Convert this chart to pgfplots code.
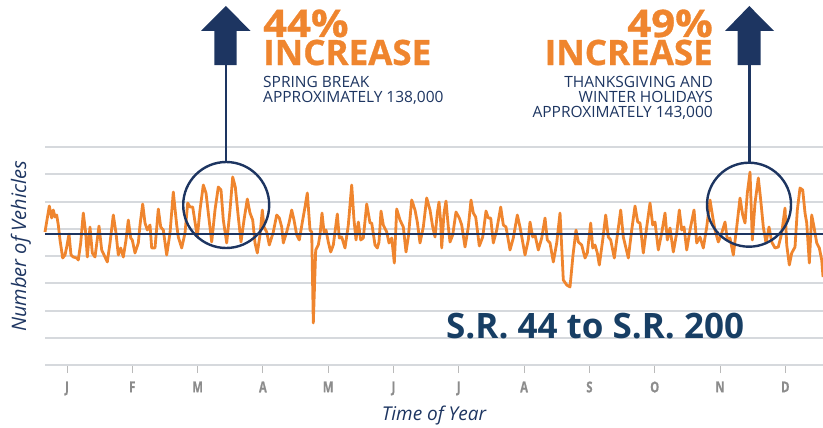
\documentclass[border=0pt]{standalone}
\usepackage{pgfplots}
\pgfplotsset{compat=1.18}
\usepackage{pgfplotstable}
\usepackage{fontspec}
\setmainfont{Open Sans}
\newfontfamily\heavy{Open Sans}[BoldFeatures={FakeBold=0.8}]
\definecolor{navy}{HTML}{1D3561}
\definecolor{srnavy}{HTML}{173E64}
\definecolor{orng}{HTML}{EF852E}
\definecolor{gridg}{HTML}{D6D9DD}
\definecolor{monthg}{HTML}{8C8C8C}
\pgfplotstableread{
x v
45 133
49.3 159
51.7 147
53.3 155
55 148
56.7 150
58.3 140
60 125
62.7 107
65 110
66.7 118
69 131
71 110
73.3 108
76.7 107
78.3 105
80.7 122
83.3 152
85.7 132
87.3 108
90 138
92.3 112
95 108
99 139
101.7 115
105 108
107.3 103
110 122
113.3 150
116 132
118.3 110
120.7 117
123.3 108
126 125
128.3 145
130.7 127
132.3 125
135 112
138.3 122
140 140
142.7 161
145 142
147.3 135
150 140
151.7 117
155 117
158.3 156
160.7 138
163.3 135
166.7 110
170 132
173.3 173
176.7 140
178.3 128
181.7 117
185 132
187.7 162
190 158
192.7 158
195 143
197.3 128
200 155
203.3 180
206 172
208.3 152
211.7 123
215 155
218.3 178
221 175
223.3 145
226.7 122
230 155
232.7 188
235.3 178
238.3 148
241 123
244 145
247.3 166
250 152
252.7 145
255 122
257.3 112
260 130
262.3 155
264 138
266.7 133
269.3 120
273.3 133
276.7 150
279.3 147
281.7 138
283.3 122
286.7 133
289 142
291.7 155
294 145
296.7 130
299.3 125
302.7 145
305 158
307.3 172
310 135
311.7 133
313.3 42
315.7 115
318.3 120
320 130
322 152
324 133
326 135
328.3 123
330.7 113
333.3 120
337.3 151
339.3 127
341.7 128
345 117
348.3 140
351.7 180
354 145
356 125
358.3 143
360.7 125
363.3 127
366.7 161
370 142
371.7 142
375 120
377.3 117
379 123
381 154
383.3 140
386.7 133
389 122
391.7 127
394.3 102
396.7 156
400 145
403.3 138
406 113
408.3 128
411.7 165
415 155
417.3 143
420 122
423.3 138
426.7 167
430 155
432.7 138
435 128
437.3 152
439 163
440.7 143
441.7 117
444 152
446 164
448.3 138
450 123
452.7 130
456 153
459.3 147
461.7 140
465 118
468.3 138
471 165
473.3 152
475.7 148
479.3 119
482.7 128
486 154
488.3 147
490.7 147
493.3 122
496.7 135
500.7 158
503.3 140
506 138
510 115
513.3 127
517.3 150
520 138
525 110
528.3 125
530 143
532.7 128
535 130
538.3 115
541.7 127
545 147
547.3 125
550 122
553.3 103
556.7 122
560 152
561.7 118
563.3 85
566.7 80
570 78
573 110
576 135
578.3 123
581.7 120
585 107
587.3 112
590.7 142
592.7 117
595 120
597.3 112
599.3 100
602.7 125
605.7 150
608.3 128
610.7 125
614.3 107
616.7 125
620.7 155
623.3 128
625.7 118
628.3 107
631.7 135
635 159
637.7 143
640 142
643.3 112
646.7 138
650 162
652.7 140
655 143
658.3 115
661.7 132
665 152
667.3 125
670 137
673.3 113
676.7 132
679.3 155
681.7 135
684 138
686.7 115
690 135
694 155
696.7 122
700 128
703.3 117
706.7 138
710 165
712.7 148
715 135
718.3 123
721.7 132
725 143
727.3 125
730 127
733.3 110
736.7 138
740 167
742.7 150
745 142
747.3 172
750 193
752.3 125
755 162
758.3 187
760.7 165
763.3 138
766 122
769 138
771.7 123
775 117
778.3 118
781.7 132
785 157
786.7 120
789.3 100
791.7 112
795 118
797.3 155
800 177
802.7 175
805 152
806.7 142
809.3 102
811.7 150
814 138
816.7 122
819.3 117
821.7 105
823 88
}\traffic
\begin{document}
\begin{tikzpicture}[x=1bp,y=1bp]
\useasboundingbox (0,0) rectangle (823,427);
\begin{axis}[
  at={(45bp,62bp)}, anchor=south west,
  scale only axis, width=778bp, height=218bp,
  xmin=45, xmax=823, ymin=0, ymax=218,
  clip=false,
  axis x line*=bottom, axis y line*=left,
  x axis line style={gridg, line width=2.2bp, -},
  y axis line style={draw=none},
  ytick={27.25,54.5,81.75,109,136.25,163.5,190.75,218},
  yticklabels={},
  ymajorgrids,
  major grid style={gridg, line width=2bp},
  ytick style={draw=none},
  xtick={67,132.3,197.6,262.9,328.2,393.5,458.8,524.1,589.4,654.7,720,785.3},
  xticklabels={J,F,M,A,M,J,J,A,S,O,N,D},
  tick align=outside,
  major tick length=8bp,
  xtick style={monthg!60, line width=0.9bp},
  xticklabel style={font=\heavy\bfseries\fontsize{15bp}{17bp}\selectfont, text=monthg, xscale=0.75, yshift=-5bp},
]
\addplot[orng, line width=2.8bp, line join=round, no markers] table[x=x, y=v] {\traffic};
\addplot[navy, line width=2.6bp, no markers] coordinates {(45,131) (823,131)};
\end{axis}
% circles and arrows
\draw[navy, line width=2.4bp] (226.2,222) circle (43);
\draw[navy, line width=2.4bp] (749,222.3) circle (42);
\draw[navy, line width=2.6bp] (225.8,362) -- (225.8,265);
\draw[navy, line width=2.6bp] (749.3,362) -- (749.3,264.3);
\fill[navy] (201,396) -- (225.8,421) -- (250.7,396) -- (236.7,396) -- (236.7,362) -- (214.3,362) -- (214.3,396) -- cycle;
\fill[navy] (725,396) -- (749.3,421) -- (774,396) -- (760.7,396) -- (760.7,362) -- (737.7,362) -- (737.7,396) -- cycle;
% texts
\node[anchor=base west, inner sep=0, text depth=0pt, text=orng, font=\heavy\bfseries\fontsize{38bp}{40bp}\selectfont, xscale=1.1] at (263,390) {44\%};
\node[anchor=base west, inner sep=0, text height=25bp, text depth=0pt, text=orng, font=\heavy\bfseries\fontsize{35bp}{37bp}\selectfont] at (263,362) {INCREASE};
\node[anchor=base west, inner sep=0, text=navy, font=\fontsize{15.5bp}{17bp}\selectfont] at (263,340) {SPRING BREAK};
\node[anchor=base west, inner sep=0, text=navy, font=\fontsize{15.5bp}{17bp}\selectfont] at (263,325) {APPROXIMATELY 138,000};
\node[anchor=base east, inner sep=0, text depth=0pt, text=orng, font=\heavy\bfseries\fontsize{38bp}{40bp}\selectfont, xscale=1.1] at (713,390) {49\%};
\node[anchor=base east, inner sep=0, text height=25bp, text depth=0pt, text=orng, font=\heavy\bfseries\fontsize{35bp}{37bp}\selectfont] at (713,362) {INCREASE};
\node[anchor=base east, inner sep=0, text=navy, font=\fontsize{15.5bp}{17bp}\selectfont] at (713,340) {THANKSGIVING AND};
\node[anchor=base east, inner sep=0, text=navy, font=\fontsize{15.5bp}{17bp}\selectfont] at (713,325) {WINTER HOLIDAYS};
\node[anchor=base east, inner sep=0, text=navy, font=\fontsize{15.5bp}{17bp}\selectfont] at (713,310) {APPROXIMATELY 143,000};
\node[anchor=base west, inner sep=0, text=srnavy, font=\bfseries\fontsize{35bp}{37bp}\selectfont] at (446,88.7) {S.R. 44 to S.R. 200};
\node[anchor=base, inner sep=0, text=navy, font=\itshape\fontsize{19bp}{21bp}\selectfont] at (434,7) {Time of Year};
\node[anchor=base, inner sep=0, text=navy, font=\itshape\fontsize{20bp}{22bp}\selectfont, rotate=90] at (26,180.5) {Number of Vehicles};
\end{tikzpicture}
\end{document}
